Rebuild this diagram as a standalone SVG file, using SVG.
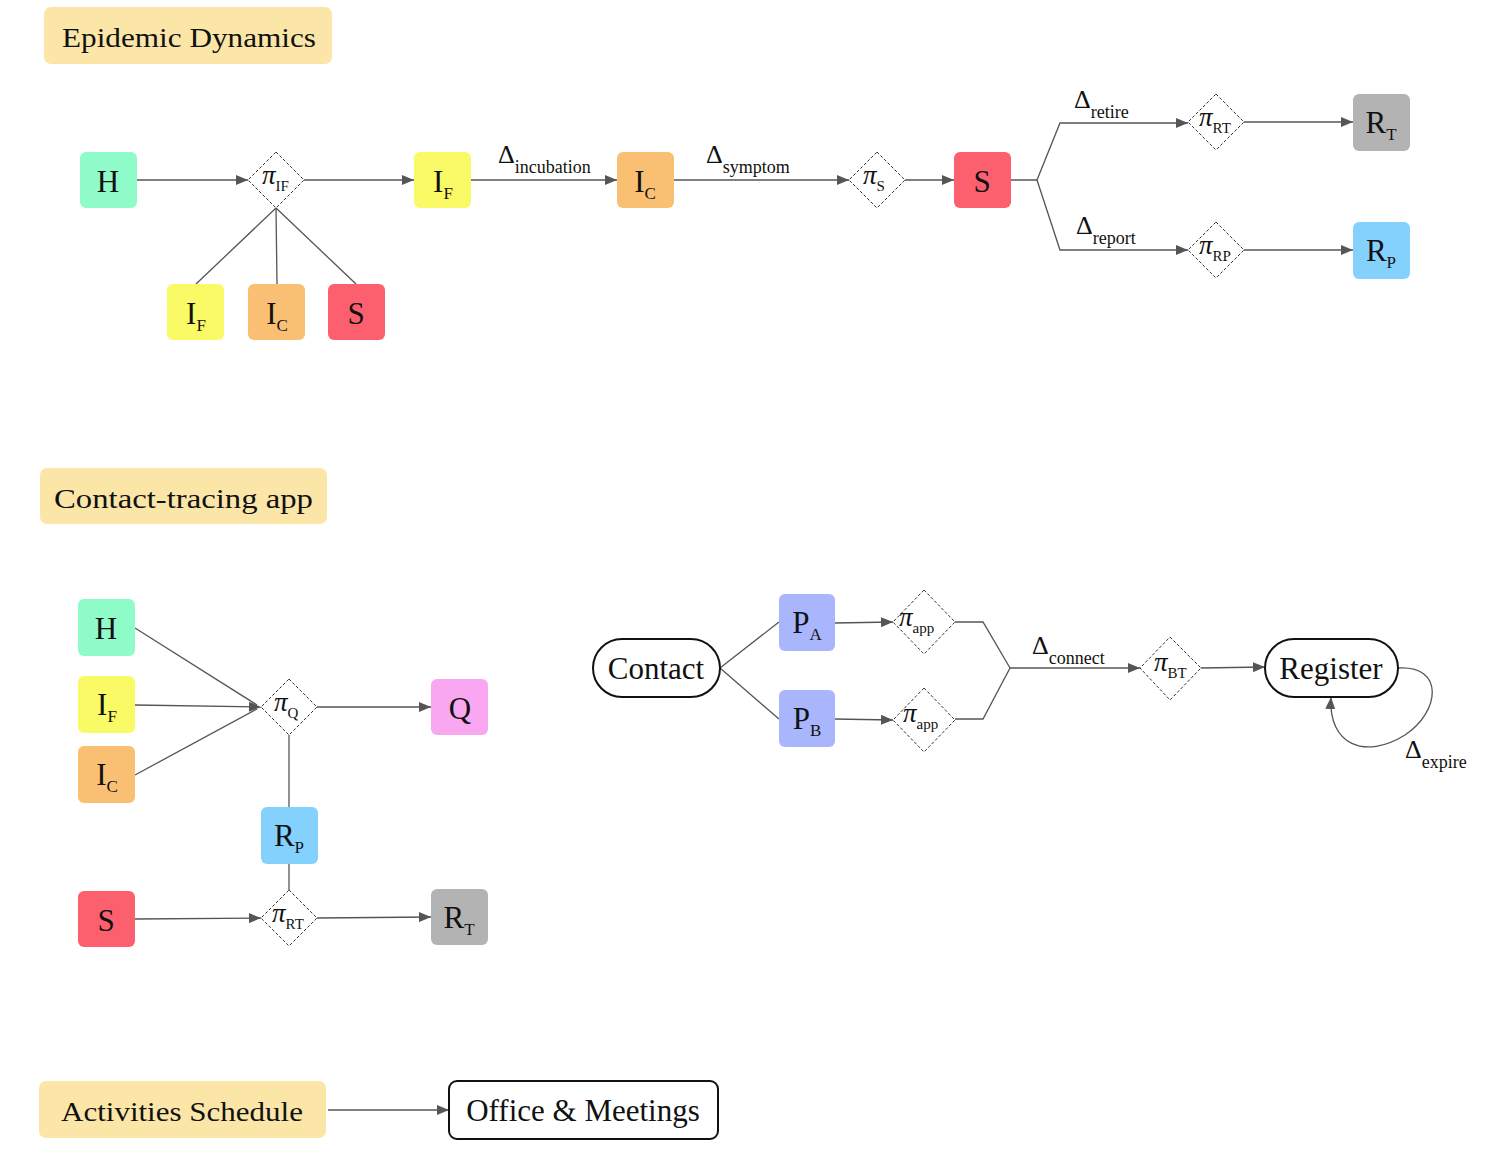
<svg xmlns="http://www.w3.org/2000/svg" width="1500" height="1153" viewBox="0 0 1500 1153" font-family="'Liberation Serif', 'DejaVu Serif', serif">
<defs>
<marker id="arr" viewBox="0 0 12 10" refX="12" refY="5" markerWidth="12" markerHeight="10" markerUnits="userSpaceOnUse" orient="auto">
<path d="M0,0 L12,5 L0,10 Z" fill="#555"/>
</marker>
</defs>
<style>
text{font-family:'Liberation Serif','DejaVu Serif',serif;fill:#111}
.title{fill:#fbe6a8}
.n{font-size:31px;text-anchor:middle}
.sub{font-size:17px}
.pi{font-size:27px;font-style:italic}
.psub{font-size:15px;font-style:normal}
.d{font-size:26px}
.dsub{font-size:18px}
.dia{fill:#fff;stroke:#333;stroke-width:1;stroke-dasharray:3,2}
.e{fill:none;stroke:#555;stroke-width:1.3}
.stad{fill:#fff;stroke:#111;stroke-width:2}
.tt{font-size:28px}
.big{font-size:31px;text-anchor:middle}
</style>
<rect width="1500" height="1153" fill="#fff"/>

<!-- Titles -->
<g id="title-epidemic"><rect class="title" x="44" y="7" width="288" height="57" rx="7"/><text class="tt" x="62" y="47" textLength="254" lengthAdjust="spacingAndGlyphs">Epidemic Dynamics</text></g>
<g id="title-app"><rect class="title" x="40" y="468" width="287" height="56" rx="7"/><text class="tt" x="54" y="508" textLength="259" lengthAdjust="spacingAndGlyphs">Contact-tracing app</text></g>
<g id="title-activities"><rect class="title" x="39" y="1081" width="287" height="57" rx="7"/><text class="tt" x="61" y="1121" textLength="242" lengthAdjust="spacingAndGlyphs">Activities Schedule</text></g>

<!-- Connectors -->
<g id="connectors">
<path class="e" d="M137,180 H248" marker-end="url(#arr)"/>
<path class="e" d="M304,180 H414" marker-end="url(#arr)"/>
<path class="e" d="M471,180 H617" marker-end="url(#arr)"/>
<path class="e" d="M674,180 H849" marker-end="url(#arr)"/>
<path class="e" d="M905,180 H954" marker-end="url(#arr)"/>
<path class="e" d="M1011,180 H1037 L1060,123 H1188" marker-end="url(#arr)"/>
<path class="e" d="M1037,180 L1060,250 H1188" marker-end="url(#arr)"/>
<path class="e" d="M1244,122 H1353" marker-end="url(#arr)"/>
<path class="e" d="M1244,250 H1353" marker-end="url(#arr)"/>
<path class="e" d="M276,208 L196,284"/>
<path class="e" d="M276,208 L277,284"/>
<path class="e" d="M276,208 L356,284"/>

<path class="e" d="M135,628 L257,705"/>
<path class="e" d="M135,775 L257,709"/>
<path class="e" d="M135,705 L261,707" marker-end="url(#arr)"/>
<path class="e" d="M317,707 H431" marker-end="url(#arr)"/>
<path class="e" d="M289,735 V807"/>
<path class="e" d="M289,864 V890"/>
<path class="e" d="M135,919 L261,918" marker-end="url(#arr)"/>
<path class="e" d="M317,918 L431,917" marker-end="url(#arr)"/>

<path class="e" d="M720,668 L779,622"/>
<path class="e" d="M720,668 L779,719"/>
<path class="e" d="M835,623 L893,622" marker-end="url(#arr)"/>
<path class="e" d="M835,719 L893,720" marker-end="url(#arr)"/>
<path class="e" d="M955,622 H983 L1010,668 L983,719 H955"/>
<path class="e" d="M1010,668 H1140" marker-end="url(#arr)"/>
<path class="e" d="M1201,668 L1265,667" marker-end="url(#arr)"/>
<path class="e" d="M1398,668 C1445,665 1440,712 1405,735 C1365,760 1328,745 1331,697" marker-end="url(#arr)"/>
<path class="e" d="M328,1110 H449" marker-end="url(#arr)"/>
</g>

<!-- Edge labels -->
<g id="labels">
<text class="d" x="498" y="163">Δ<tspan class="dsub" dy="10">incubation</tspan></text>
<text class="d" x="706" y="163">Δ<tspan class="dsub" dy="10">symptom</tspan></text>
<text class="d" x="1074" y="108">Δ<tspan class="dsub" dy="10">retire</tspan></text>
<text class="d" x="1076" y="234">Δ<tspan class="dsub" dy="10">report</tspan></text>
<text class="d" x="1032" y="654">Δ<tspan class="dsub" dy="10">connect</tspan></text>
<text class="d" x="1405" y="758">Δ<tspan class="dsub" dy="10">expire</tspan></text>
</g>

<!-- Epidemic nodes -->
<g id="ep-H"><rect x="80" y="152" width="57" height="56" rx="6" fill="#8ffbc9"/><text class="n" x="108" y="192">H</text></g>
<g id="ep-piIF"><path class="dia" d="M276,152 L304,180 L276,208 L248,180 Z"/><text class="pi" x="262" y="184">π<tspan class="psub" dy="7">IF</tspan></text></g>
<g id="ep-IF"><rect x="414" y="152" width="57" height="56" rx="6" fill="#fafa66"/><text class="n" x="443" y="192">I<tspan class="sub" dy="7">F</tspan></text></g>
<g id="ep-IC"><rect x="617" y="152" width="57" height="56" rx="6" fill="#f9bf72"/><text class="n" x="645" y="192">I<tspan class="sub" dy="7">C</tspan></text></g>
<g id="ep-piS"><path class="dia" d="M877,152 L905,180 L877,208 L849,180 Z"/><text class="pi" x="863" y="184">π<tspan class="psub" dy="7">S</tspan></text></g>
<g id="ep-S"><rect x="954" y="152" width="57" height="56" rx="6" fill="#fc5f6d"/><text class="n" x="982" y="192">S</text></g>
<g id="ep-piRT"><path class="dia" d="M1216,94 L1244,122 L1216,150 L1188,122 Z"/><text class="pi" x="1199" y="126">π<tspan class="psub" dy="7">RT</tspan></text></g>
<g id="ep-piRP"><path class="dia" d="M1216,222 L1244,250 L1216,278 L1188,250 Z"/><text class="pi" x="1199" y="254">π<tspan class="psub" dy="7">RP</tspan></text></g>
<g id="ep-RT"><rect x="1353" y="94" width="57" height="57" rx="6" fill="#b3b3b3"/><text class="n" x="1381" y="133">R<tspan class="sub" dy="7">T</tspan></text></g>
<g id="ep-RP"><rect x="1353" y="222" width="57" height="57" rx="6" fill="#84d1fd"/><text class="n" x="1381" y="261">R<tspan class="sub" dy="7">P</tspan></text></g>
<g id="ep-IF2"><rect x="167" y="284" width="57" height="56" rx="6" fill="#fafa66"/><text class="n" x="196" y="324">I<tspan class="sub" dy="7">F</tspan></text></g>
<g id="ep-IC2"><rect x="248" y="284" width="57" height="56" rx="6" fill="#f9bf72"/><text class="n" x="277" y="324">I<tspan class="sub" dy="7">C</tspan></text></g>
<g id="ep-S2"><rect x="328" y="284" width="57" height="56" rx="6" fill="#fc5f6d"/><text class="n" x="356" y="324">S</text></g>

<!-- App nodes -->
<g id="app-H"><rect x="78" y="599" width="57" height="57" rx="6" fill="#8ffbc9"/><text class="n" x="106" y="639">H</text></g>
<g id="app-IF"><rect x="78" y="676" width="57" height="57" rx="6" fill="#fafa66"/><text class="n" x="107" y="715">I<tspan class="sub" dy="7">F</tspan></text></g>
<g id="app-IC"><rect x="78" y="746" width="57" height="57" rx="6" fill="#f9bf72"/><text class="n" x="107" y="785">I<tspan class="sub" dy="7">C</tspan></text></g>
<g id="app-piQ"><path class="dia" d="M289,679 L317,707 L289,735 L261,707 Z"/><text class="pi" x="274" y="711">π<tspan class="psub" dy="7">Q</tspan></text></g>
<g id="app-Q"><rect x="431" y="679" width="57" height="56" rx="6" fill="#f9a7f0"/><text class="n" x="460" y="719">Q</text></g>
<g id="app-RP"><rect x="261" y="807" width="57" height="57" rx="6" fill="#84d1fd"/><text class="n" x="289" y="846">R<tspan class="sub" dy="7">P</tspan></text></g>
<g id="app-S"><rect x="78" y="891" width="57" height="56" rx="6" fill="#fc5f6d"/><text class="n" x="106" y="931">S</text></g>
<g id="app-piRT"><path class="dia" d="M289,890 L317,918 L289,946 L261,918 Z"/><text class="pi" x="272" y="922">π<tspan class="psub" dy="7">RT</tspan></text></g>
<g id="app-RT"><rect x="431" y="889" width="57" height="56" rx="6" fill="#b3b3b3"/><text class="n" x="459" y="928">R<tspan class="sub" dy="7">T</tspan></text></g>

<g id="contact"><rect class="stad" x="593" y="639" width="127" height="58" rx="29"/><text class="big" x="656" y="679">Contact</text></g>
<g id="PA"><rect x="779" y="594" width="56" height="57" rx="6" fill="#a9b5fc"/><text class="n" x="807" y="633">P<tspan class="sub" dy="7">A</tspan></text></g>
<g id="PB"><rect x="779" y="690" width="56" height="57" rx="6" fill="#a9b5fc"/><text class="n" x="807" y="729">P<tspan class="sub" dy="7">B</tspan></text></g>
<g id="piappA"><path class="dia" d="M924,590 L955,622 L924,654 L893,622 Z"/><text class="pi" x="899" y="626">π<tspan class="psub" dy="7">app</tspan></text></g>
<g id="piappB"><path class="dia" d="M924,688 L955,720 L924,752 L893,720 Z"/><text class="pi" x="903" y="722">π<tspan class="psub" dy="7">app</tspan></text></g>
<g id="piBT"><path class="dia" d="M1170,637 L1201,668 L1170,700 L1140,668 Z"/><text class="pi" x="1154" y="671">π<tspan class="psub" dy="7">BT</tspan></text></g>
<g id="register"><rect class="stad" x="1265" y="639" width="133" height="58" rx="29"/><text class="big" x="1331" y="679">Register</text></g>

<g id="office"><rect class="stad" x="449" y="1081" width="269" height="58" rx="8"/><text class="big" x="583" y="1121">Office &amp; Meetings</text></g>
</svg>
